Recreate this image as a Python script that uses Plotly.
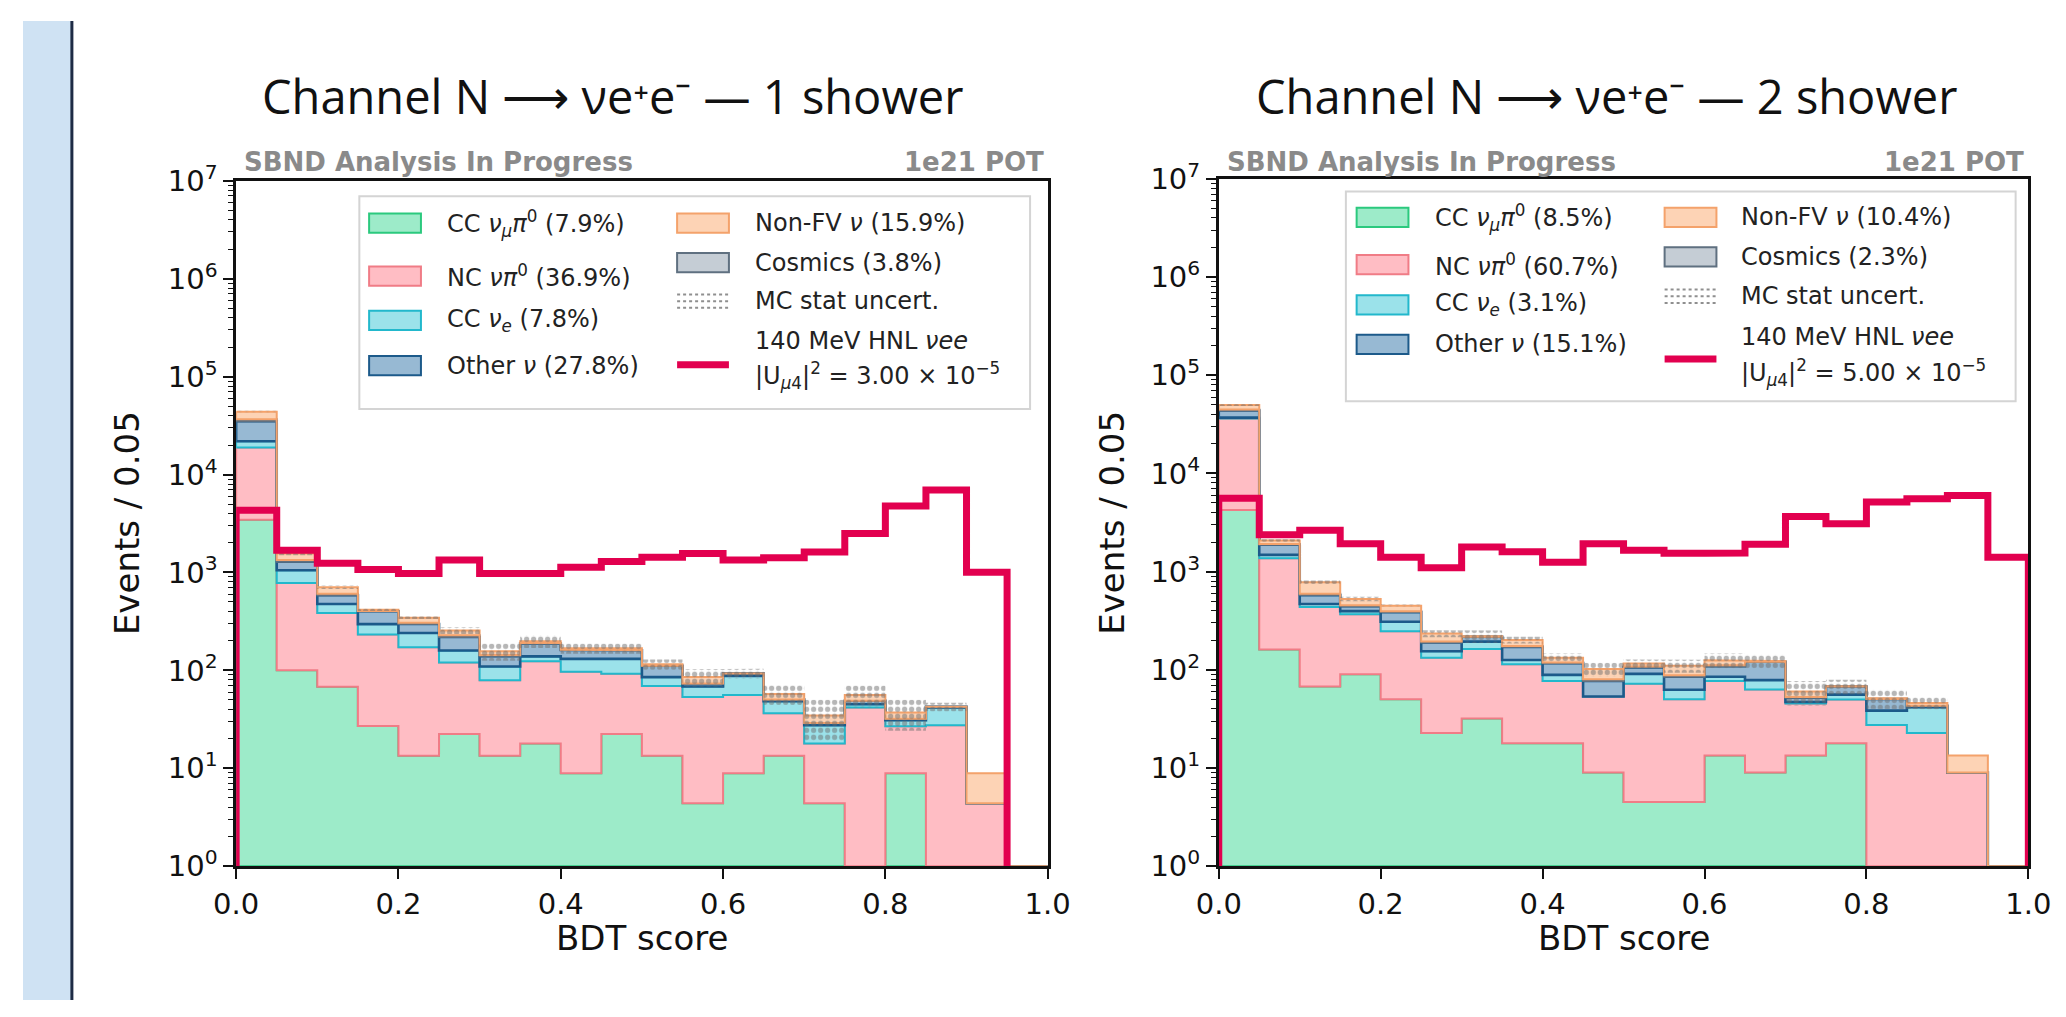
import plotly.graph_objects as go

W, H = 2066, 1017

# ---------------- data ----------------
BIN_EDGES = [0.00, 0.05, 0.10, 0.15, 0.20, 0.25, 0.30, 0.35, 0.40, 0.45, 0.50,
             0.55, 0.60, 0.65, 0.70, 0.75, 0.80, 0.85, 0.90, 0.95, 1.00]

# Panel 1 : 1 shower
L_CC_NUMU_PI0 = [3460, 100, 68, 27, 13.4, 22.4, 13.4, 17.9, 8.9, 22.4, 13.4, 4.4, 8.9, 13.4, 4.4, 0, 8.9, 0, 0, 0]
L_NC_PI0 = [15390, 680, 318, 206, 159, 98, 66, 106, 88, 70, 56, 49, 47, 23, 13.5, 41.7, 18, 27.5, 4.4, 0]
L_CC_NUE = [3050, 274, 91, 64, 68, 39, 30, 15, 34, 39, 16, 15, 32, 12, 9.6, 3.3, 4, 14.2, 0, 0]
L_OTHER = [13100, 236, 108, 104, 57, 60, 30, 49, 31, 29, 26, 5, 5, 2, 1.5, 4, 1.2, 0.7, 0, 0]
L_COSMICS = [1700, 50, 20, 4, 9, 9, 4, 2, 0, 0, 0, 0, 0, 0, 0, 0, 0, 0, 0, 0]
L_NONFV = [7200, 220, 102, 12, 39, 27, 13, 9, 6, 8, 4, 12, 0, 7, 5.5, 7, 5, 0, 4.5, 0]
L_STAT_REL = [0.02, 0.04, 0.04, 0.03, 0.03, 0.08, 0.2, 0.15, 0.12, 0.12, 0.12, 0.2, 0.12, 0.23, 0.45, 0.25, 0.35, 0.1, 0, 0]
L_HNL = [4330, 1683, 1245, 1071, 977, 1342, 977, 977, 1128, 1292, 1426, 1561, 1342, 1410, 1622, 2493, 4770, 6960, 1007, 0]

# Panel 2 : 2 shower
R_CC_NUMU_PI0 = [4240, 161, 67.6, 90, 50, 22.7, 31.9, 17.9, 17.9, 9.0, 4.5, 4.5, 13.4, 9.0, 13.4, 17.9, 0, 0, 0, 0]
R_NC_PI0 = [31960, 1211, 369, 278, 197, 110, 131, 96, 59, 44.5, 67.5, 45.5, 63.6, 54, 32, 32, 27.4, 22.7, 9.0, 0]
R_CC_NUE = [800, 108, 31, 28, 62, 22, 31, 12, 12, 0, 19, 12.7, 8, 15.6, 1.6, 6, 11, 18.8, 0, 0]
R_OTHER = [6700, 403, 109, 48, 78, 35, 23, 45, 28, 23.5, 15, 22.3, 24, 42.4, 5, 11.6, 12, 1.5, 0, 0]
R_COSMICS = [1100, 30, 20, 10, 8, 5, 0, 4, 2, 3, 2, 3, 2, 0, 1, 0, 0, 0, 0, 0]
R_NONFV = [4900, 162, 183, 73, 55, 39, 3, 26, 14, 22, 8, 22, 14, 2, 7, 0.4, 1, 3, 4.4, 0]
R_STAT_REL = [0.02, 0.03, 0.04, 0.05, 0.03, 0.08, 0.14, 0.08, 0.1, 0.16, 0.1, 0.15, 0.17, 0.16, 0.28, 0.17, 0.22, 0.14, 0, 0]
R_HNL = [5600, 2376, 2640, 1925, 1403, 1095, 1786, 1595, 1244, 1925, 1655, 1536, 1547, 1897, 3650, 3070, 5120, 5520, 5950, 1403]

TITLES = ["Channel N ⟶ νe⁺e⁻ — 1 shower", "Channel N ⟶ νe⁺e⁻ — 2 shower"]
X_TICKS = [0.0, 0.2, 0.4, 0.6, 0.8, 1.0]
Y_EXPONENTS = [0, 1, 2, 3, 4, 5, 6, 7]

L_LABELS = ["CC <i>ν<sub>μ</sub>π</i><sup>0</sup> (7.9%)", "NC <i>νπ</i><sup>0</sup> (36.9%)",
            "CC <i>ν<sub>e</sub></i> (7.8%)", "Other <i>ν</i> (27.8%)",
            "Non-FV <i>ν</i> (15.9%)", "Cosmics (3.8%)", "MC stat uncert.",
            "140 MeV HNL <i>νee</i>", "|U<sub><i>μ</i>4</sub>|<sup>2</sup> = 3.00 × 10<sup>−5</sup>"]
R_LABELS = ["CC <i>ν<sub>μ</sub>π</i><sup>0</sup> (8.5%)", "NC <i>νπ</i><sup>0</sup> (60.7%)",
            "CC <i>ν<sub>e</sub></i> (3.1%)", "Other <i>ν</i> (15.1%)",
            "Non-FV <i>ν</i> (10.4%)", "Cosmics (2.3%)", "MC stat uncert.",
            "140 MeV HNL <i>νee</i>", "|U<sub><i>μ</i>4</sub>|<sup>2</sup> = 5.00 × 10<sup>−5</sup>"]

# ---------------- style ----------------
FILLS = ['#9DEBC9', '#FFBDC4', '#9BE2EA', '#97B9D3', '#C5CDD5', '#FDD3B5']
EDGES = ['#2BC97E', '#F07C86', '#22B8CC', '#1C5A8A', '#5F7080', '#F4A26B']
EDGE_W = [2, 2, 2, 2.6, 2, 2]
RED = '#E2004F'
FONT = "DejaVu Sans"
Y_RANGE = [0, 7]
FLOOR = 10 ** Y_RANGE[0]


def px(x):
    return x / W


def py(y):
    return 1 - y / H


def steps(vals):
    xs, ys = [], []
    for i, v in enumerate(vals):
        v = max(v, FLOOR)
        xs += [BIN_EDGES[i], BIN_EDGES[i + 1]]
        ys += [v, v]
    return xs, ys


fig = go.Figure()
shapes = []
annotations = []

panels = [
    dict(layers=[L_CC_NUMU_PI0, L_NC_PI0, L_CC_NUE, L_OTHER, L_COSMICS, L_NONFV],
         stat=L_STAT_REL, hnl=L_HNL, labels=L_LABELS, xa='x', ya='y',
         frame=(218, 1048, 166, 878), title_x=603,
         legend=dict(box=(344, 1030, 182, 403), c1=354, c1t=432, rows1=[210, 265, 311, 358],
                     c2=669, c2t=747, rows2=[210, 251, 291, 357], txt2=[210, 251, 291, 332, 368]),
         ylab_x=107),
    dict(layers=[R_CC_NUMU_PI0, R_NC_PI0, R_CC_NUE, R_OTHER, R_COSMICS, R_NONFV],
         stat=R_STAT_REL, hnl=R_HNL, labels=R_LABELS, xa='x2', ya='y2',
         frame=(1223, 2051, 164, 878), title_x=1620,
         legend=dict(box=(1353, 2038, 177, 395), c1=1364, c1t=1442, rows1=[204, 253, 295, 336],
                     c2=1679, c2t=1755, rows2=[204, 245, 286, 351], txt2=[204, 245, 286, 328, 365]),
         ylab_x=1113),
]

for pi, p in enumerate(panels):
    cum = [0.0] * len(BIN_EDGES[:-1])
    for li, layer in enumerate(p['layers']):
        bottom = list(cum)
        cum = [c + v for c, v in zip(cum, layer)]
        xt, yt = steps(cum)
        xb, yb = steps(bottom)
        xs = xt + xb[::-1] + [xt[0]]
        ys = yt + yb[::-1] + [yt[0]]
        fig.add_trace(go.Scatter(x=xs, y=ys, mode='lines', fill='toself',
                                 fillcolor=FILLS[li],
                                 line=dict(color=EDGES[li], width=EDGE_W[li]),
                                 xaxis=p['xa'], yaxis=p['ya'], showlegend=False,
                                 hoverinfo='skip'))
    # MC stat uncertainty band
    upper = [c * (1 + r) for c, r in zip(cum, p['stat'])]
    lower = [c * (1 - r) for c, r in zip(cum, p['stat'])]
    xu, yu = steps(upper)
    xl, yl = steps(lower)
    fig.add_trace(go.Scatter(x=xu + xl[::-1] + [xu[0]], y=yu + yl[::-1] + [yu[0]],
                             mode='lines', fill='toself', fillcolor='rgba(0,0,0,0)',
                             fillpattern=dict(shape='.', fgcolor='#6e6e6e',
                                              bgcolor='rgba(0,0,0,0)', size=7, solidity=0.45),
                             line=dict(width=0, color='rgba(0,0,0,0)'),
                             xaxis=p['xa'], yaxis=p['ya'], showlegend=False, hoverinfo='skip'))
    # HNL signal (step outline, trailing empty bins dropped so no line runs along the floor)
    hnl = p['hnl']
    last = max(i for i, v in enumerate(hnl) if v > 0)
    xh, yh = steps(hnl[:last + 1])
    xh = [BIN_EDGES[0]] + xh + [BIN_EDGES[last + 1]]
    yh = [FLOOR] + yh + [FLOOR]
    fig.add_trace(go.Scatter(x=xh, y=yh, mode='lines', line=dict(color=RED, width=7),
                             xaxis=p['xa'], yaxis=p['ya'], showlegend=False, hoverinfo='skip'))

    x0, x1, y0, y1 = p['frame']
    cx = (x0 + x1) / 2
    cy = (y0 + y1) / 2
    annotations.append(dict(text=TITLES[pi], x=px(p['title_x']), y=py(78),
                            xref='paper', yref='paper', xanchor='center', yanchor='middle',
                            showarrow=False, font=dict(family='Open Sans', size=47, color='#111')))
    annotations.append(dict(text='<b>SBND Analysis In Progress</b>', x=px(x0 + 6), y=py(146),
                            xref='paper', yref='paper', xanchor='left', yanchor='middle',
                            showarrow=False, font=dict(family=FONT, size=26, color='#8a8a8a')))
    annotations.append(dict(text='<b>1e21 POT</b>', x=px(x1 - 2), y=py(146),
                            xref='paper', yref='paper', xanchor='right', yanchor='middle',
                            showarrow=False, font=dict(family=FONT, size=26, color='#8a8a8a')))
    annotations.append(dict(text='Events / 0.05', x=px(p['ylab_x']), y=py(cy), textangle=-90,
                            xref='paper', yref='paper', xanchor='center', yanchor='middle',
                            showarrow=False, font=dict(family=FONT, size=34, color='#111')))
    annotations.append(dict(text='BDT score', x=px(cx), y=py(953),
                            xref='paper', yref='paper', xanchor='center', yanchor='middle',
                            showarrow=False, font=dict(family=FONT, size=34, color='#111')))

    # legend
    lg = p['legend']
    bx0, bx1, by0, by1 = lg['box']
    shapes.append(dict(type='rect', xref='paper', yref='paper', x0=px(bx0), x1=px(bx1),
                       y0=py(by1), y1=py(by0), line=dict(color='#d4d4d4', width=2),
                       fillcolor='rgba(255,255,255,0.85)', layer='above'))
    sw, sh = 53, 20
    for i in range(4):
        yc = lg['rows1'][i]
        shapes.append(dict(type='rect', xref='paper', yref='paper', x0=px(lg['c1']), x1=px(lg['c1'] + sw),
                           y0=py(yc + sh / 2), y1=py(yc - sh / 2), fillcolor=FILLS[i],
                           line=dict(color=EDGES[i], width=2), layer='above'))
        annotations.append(dict(text=p['labels'][i], x=px(lg['c1t']), y=py(yc), xref='paper', yref='paper',
                                xanchor='left', yanchor='middle', showarrow=False,
                                font=dict(family=FONT, size=24, color='#222')))
    for j, li in enumerate([5, 4]):
        yc = lg['rows2'][j]
        shapes.append(dict(type='rect', xref='paper', yref='paper', x0=px(lg['c2']), x1=px(lg['c2'] + sw),
                           y0=py(yc + sh / 2), y1=py(yc - sh / 2), fillcolor=FILLS[li],
                           line=dict(color=EDGES[li], width=2), layer='above'))
    yc = lg['rows2'][2]
    for dy in (-7, 0, 7):
        shapes.append(dict(type='line', xref='paper', yref='paper', x0=px(lg['c2']), x1=px(lg['c2'] + sw),
                           y0=py(yc + dy), y1=py(yc + dy), line=dict(color='#8f8f8f', width=2, dash='dot'),
                           layer='above'))
    yc = lg['rows2'][3]
    shapes.append(dict(type='line', xref='paper', yref='paper', x0=px(lg['c2']), x1=px(lg['c2'] + sw),
                       y0=py(yc), y1=py(yc), line=dict(color=RED, width=7), layer='above'))
    for k in range(5):
        annotations.append(dict(text=p['labels'][4 + k], x=px(lg['c2t']), y=py(lg['txt2'][k]),
                                xref='paper', yref='paper', xanchor='left', yanchor='middle',
                                showarrow=False, font=dict(family=FONT, size=24, color='#222')))

# left slide strip
shapes.append(dict(type='rect', xref='paper', yref='paper', x0=0, x1=px(50), y0=0, y1=1,
                   fillcolor='#CFE2F3', line=dict(width=0), layer='below'))
shapes.append(dict(type='line', xref='paper', yref='paper', x0=px(50), x1=px(50), y0=0, y1=1,
                   line=dict(color='#1E2B45', width=3), layer='above'))

minor_vals = [m * 10 ** e for e in Y_EXPONENTS[:-1] for m in range(2, 10)]

common_x = dict(range=[0, 1], tickvals=X_TICKS, ticktext=[f"{t:.1f}" for t in X_TICKS],
                ticks='outside', ticklen=10, tickwidth=2, tickcolor='#111',
                tickfont=dict(family=FONT, size=29, color='#111'), showgrid=False, zeroline=False,
                showline=True, mirror=True, linecolor='#111', linewidth=2.5)
common_y = dict(type='log', range=Y_RANGE, tickvals=[10 ** e for e in Y_EXPONENTS],
                ticktext=[f"10<sup>{e}</sup>" for e in Y_EXPONENTS],
                ticks='outside', ticklen=10, tickwidth=2, tickcolor='#111',
                minor=dict(tickvals=minor_vals, ticks='outside', ticklen=5, tickwidth=1.3, tickcolor='#111'),
                tickfont=dict(family=FONT, size=29, color='#111'), showgrid=False, zeroline=False,
                showline=True, mirror=True, linecolor='#111', linewidth=2.5)

f1 = panels[0]['frame']
f2 = panels[1]['frame']
fig.update_layout(
    width=W, height=H, margin=dict(l=0, r=0, t=0, b=0),
    paper_bgcolor='white', plot_bgcolor='white', showlegend=False,
    xaxis=dict(domain=[px(f1[0]), px(f1[1])], anchor='y', **common_x),
    yaxis=dict(domain=[py(f1[3]), py(f1[2])], anchor='x', **common_y),
    xaxis2=dict(domain=[px(f2[0]), px(f2[1])], anchor='y2', **common_x),
    yaxis2=dict(domain=[py(f2[3]), py(f2[2])], anchor='x2', **common_y),
    shapes=shapes, annotations=annotations,
)

fig.write_html("out.html", config={'displayModeBar': False},
               post_script="document.body.style.margin='0';")
